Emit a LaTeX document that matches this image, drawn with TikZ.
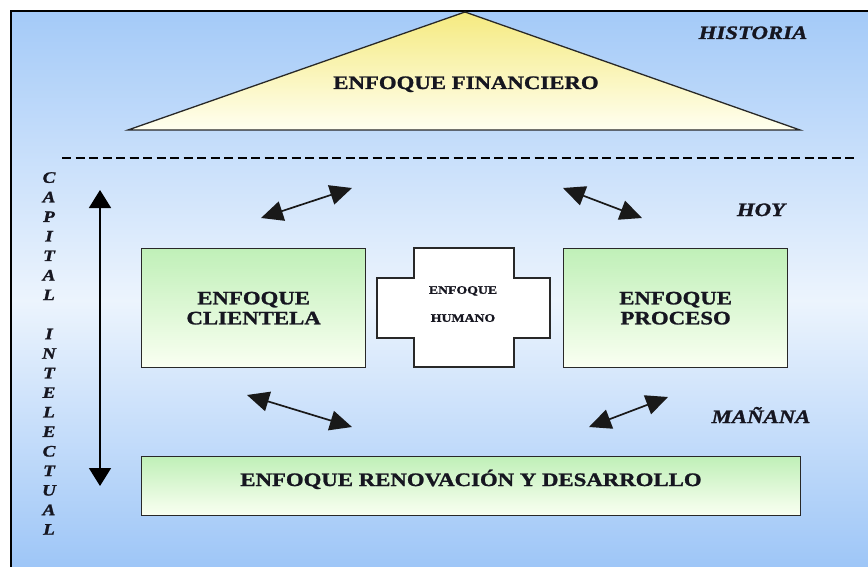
\documentclass[tikz,border=0pt]{standalone}
\usepackage{fontspec}
\setmainfont{Liberation Serif}[FakeStretch=1.2, BoldFeatures={FakeBold=1.3}, BoldItalicFeatures={FakeBold=1.3}]
\usetikzlibrary{arrows.meta}

\definecolor{skyA}{RGB}{164,202,248}
\definecolor{skyB}{RGB}{236,244,253}
\definecolor{skyC}{RGB}{158,198,247}
\definecolor{sunA}{RGB}{245,234,128}
\definecolor{sunB}{RGB}{255,255,240}
\definecolor{leafA}{RGB}{192,240,184}
\definecolor{leafB}{RGB}{250,255,242}
\definecolor{ink}{RGB}{22,22,32}
\definecolor{edge}{RGB}{40,40,40}

\tikzset{
  bigtext/.style={font=\fontsize{19}{20}\selectfont\bfseries, text=ink, inner sep=0pt},
  tagtext/.style={font=\fontsize{19}{20}\selectfont\bfseries\itshape, text=ink, inner sep=0pt, anchor=base},
  leafbox/.style={draw=edge, line width=1.3pt, top color=leafA, bottom color=leafB,
    minimum width=224pt, minimum height=119pt, inner sep=0pt, anchor=north west,
    align=center, font=\fontsize{19}{20}\selectfont\bfseries, text=ink},
  twoway/.style={{Triangle[length=22pt,width=20pt]}-{Triangle[length=22pt,width=20pt]},
    line width=1.7pt, draw=black!90},
}

\begin{document}
\begin{tikzpicture}[x=1pt,y=-1pt]
\useasboundingbox (0,0) rectangle (868,567);
\fill[white] (0,0) rectangle (868,567);

% sky background and frame
\shade[top color=skyA, bottom color=skyB] (11,11) rectangle (868,300);
\shade[top color=skyB, bottom color=skyC] (11,300) rectangle (868,567);
\draw[line width=1.4pt] (11,567) -- (11,11) -- (868,11);

% roof: financial view
\coordinate (apex) at (465,12);
\coordinate (roofL) at (128,130);
\coordinate (roofR) at (800,130);
\draw[line width=1.3pt, draw=edge, top color=sunA, bottom color=sunB]
  (apex) -- (roofR) -- (roofL) -- cycle;
\node[bigtext, anchor=base] (fin) at (466,89) {ENFOQUE FINANCIERO};

% time labels
\node[tagtext] (hist) at (753,39) {HISTORIA};
\node[tagtext] (hoy) at (761,216) {HOY};
\node[tagtext] (man) at (761,423) {MAÑANA};

% separator between past and present
\coordinate (dashL) at (62,158);
\coordinate (dashR) at (855,158);
\draw[line width=1.4pt, dash pattern=on 9pt off 4.5pt] (dashL) -- (dashR);

% vertical caption
\node[font=\fontsize{16}{19.55}\selectfont\bfseries\itshape, text=ink, align=center,
  inner sep=0pt, anchor=north] (cap) at (49,172)
  {C\\A\\P\\I\\T\\A\\L\\~\\I\\N\\T\\E\\L\\E\\C\\T\\U\\A\\L};

% vertical double arrow
\coordinate (vTop) at (100,190);
\coordinate (vBot) at (100,486);
\draw[{Triangle[length=18pt,width=22pt]}-{Triangle[length=18pt,width=22pt]},
  line width=1.7pt] (vTop) -- (vBot);

% pillars
\node[leafbox] (cli) at (141,248) {ENFOQUE\\CLIENTELA};
\node[leafbox] (pro) at (563,248) {ENFOQUE\\PROCESO};

% human focus: cross shape
\draw[line width=1.3pt, draw=edge, fill=white]
  (414,248) -- (514,248) -- (514,278) -- (550,278) -- (550,338) -- (514,338)
  -- (514,367) -- (414,367) -- (414,338) -- (377,338) -- (377,278) -- (414,278) -- cycle;
\node[font=\fontsize{11.5}{28}\selectfont\bfseries, text=ink, align=center,
  inner sep=0pt, anchor=north] (hum) at (463,286) {ENFOQUE\\HUMANO};

% base: renewal and development
\node[leafbox, minimum width=659pt, minimum height=59pt] (ren) at (141,456) {};
\node[bigtext, anchor=base] (rentxt) at (471,486) {ENFOQUE RENOVACIÓN Y DESARROLLO};

% interaction arrows
\coordinate (a1) at (261,218); \coordinate (a2) at (352,188);
\coordinate (b1) at (563,188); \coordinate (b2) at (642,218);
\coordinate (c1) at (247,395); \coordinate (c2) at (352,427);
\coordinate (d1) at (589,427); \coordinate (d2) at (668,397);
\draw[twoway] (a1) -- (a2);
\draw[twoway] (b1) -- (b2);
\draw[twoway] (c1) -- (c2);
\draw[twoway] (d1) -- (d2);
\end{tikzpicture}
\end{document}
